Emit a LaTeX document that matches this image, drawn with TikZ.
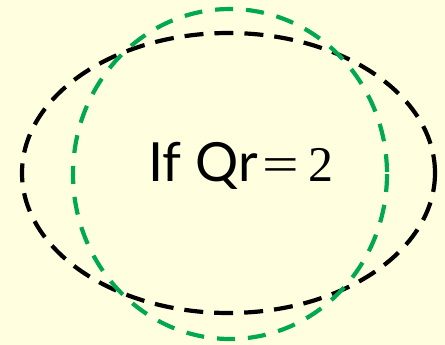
\documentclass[tikz,border=0pt]{standalone}
\usepackage{graphicx}
\usepackage{fontspec}
\setsansfont{Lato}
\newfontfamily\eqfont{Liberation Serif}
\definecolor{bgyellow}{RGB}{255,255,224}
\definecolor{cgreen}{RGB}{0,168,82}
\begin{document}
\begin{tikzpicture}[x=1pt,y=-1pt,
  dashline/.style={line width=4.2pt, dash pattern=on 19pt off 11pt},
  label/.style={font=\sffamily\fontsize{54}{60}\selectfont, inner sep=0pt}]
\fill[bgyellow] (0,0) rectangle (445,345);
\useasboundingbox (0,0) rectangle (445,345);
\draw[dashline, black] (228.5,173) ellipse [x radius=206.5, y radius=140];
\draw[dashline, cgreen, dash pattern=on 18pt off 13pt] (230,174) ellipse [x radius=157, y radius=165];
\node[label, anchor=base] (t) at (241,182) {If Qr\hspace{5pt}{\eqfont\fontsize{50}{60}\selectfont \scalebox{1.3}[1]{=}\hspace{9pt}2}};
\end{tikzpicture}
\end{document}
